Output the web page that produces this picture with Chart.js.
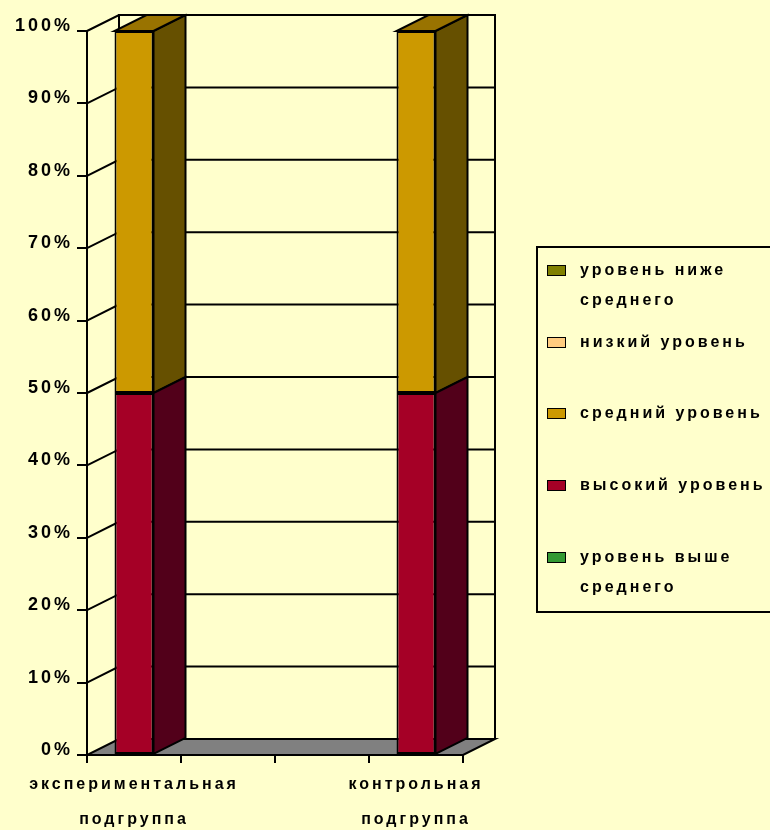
<!DOCTYPE html>
<html>
<head>
<meta charset="utf-8">
<script src="https://cdn.jsdelivr.net/npm/chart.js@4/dist/chart.umd.min.js"></script>
<style>
  html, body { margin: 0; padding: 0; background: #ffffcc; overflow: hidden; }
  #wrap { position: relative; width: 770px; height: 830px; }
  #legend {
    position: absolute; left: 536px; top: 246px; width: 260px; height: 356px;
    border: 2px solid #000; box-sizing: content-box; padding-top: 7px;
    font: bold 16px "Liberation Sans", Arial, sans-serif; letter-spacing: 3px; color: #000;
  }
  .item { position: relative; height: 71.7px; line-height: 30px; }
  .sw { position: absolute; left: 9px; top: 10px; width: 17px; height: 9px; border: 1px solid #000; }
  .txt { position: absolute; left: 42px; top: 0; width: 196px; }
</style>
</head>
<body>
<div id="wrap">
  <canvas id="myChart" width="770" height="830"></canvas>
  <div id="legend"></div>
</div>
<script>
// categories (two empty slots sit between the groups)
const categories = [['экспериментальная', 'подгруппа'], '', '', ['контрольная', 'подгруппа']];
const yTickLabels = ['0%', '10%', '20%', '30%', '40%', '50%', '60%', '70%', '80%', '90%', '100%'];

const seriesNames = ['уровень выше среднего', 'высокий уровень', 'средний уровень', 'низкий уровень', 'уровень ниже среднего'];
const vysheSrednego = [0, null, null, 0];
const vysokiy = [50, null, null, 50];
const sredniy = [50, null, null, 50];
const nizkiy = [0, null, null, 0];
const nizheSrednego = [0, null, null, 0];

// colours: front face, side face, top face
const frontColors = ['#339933', '#a50026', '#cc9900', '#ffcc80', '#808000'];
const sideColors = ['#1a4d1a', '#52001a', '#665000', '#997a4d', '#404000'];
const topColors = ['#267326', '#7a001c', '#997300', '#cc9966', '#606000'];

const DX = 32, DY = -16;

const box3d = {
    id: 'box3d',
    beforeUpdate(chart) { chart.ctx.letterSpacing = '3px'; },
    beforeDraw(chart) { chart.ctx.letterSpacing = '3px'; },
    beforeDatasetsDraw(chart) {
        const { ctx, chartArea: a, scales: { y } } = chart;
        ctx.save();
        ctx.lineWidth = 2;
        ctx.strokeStyle = '#000';
        // floor
        ctx.fillStyle = '#808080';
        ctx.beginPath();
        ctx.moveTo(a.left, a.bottom);
        ctx.lineTo(a.right, a.bottom);
        ctx.lineTo(a.right + DX, a.bottom + DY);
        ctx.lineTo(a.left + DX, a.bottom + DY);
        ctx.closePath();
        ctx.fill();
        ctx.stroke();
        // back wall edges
        ctx.beginPath();
        ctx.moveTo(a.left + DX, a.bottom + DY);
        ctx.lineTo(a.left + DX, a.top + DY);
        ctx.lineTo(a.right + DX, a.top + DY);
        ctx.lineTo(a.right + DX, a.bottom + DY);
        ctx.stroke();
        // gridlines on side + back walls
        y.ticks.forEach(t => {
            if (t.value === 0) return;
            const py = y.getPixelForValue(t.value);
            ctx.beginPath();
            ctx.moveTo(a.left, py);
            ctx.lineTo(a.left + DX, py + DY);
            ctx.lineTo(a.right + DX, py + DY);
            ctx.stroke();
        });
        ctx.restore();
    },
    afterDatasetDraw(chart, args) {
        const { ctx } = chart;
        const i = args.index;
        ctx.save();
        ctx.lineWidth = 2;
        ctx.strokeStyle = '#000';
        ctx.fillStyle = sideColors[i];
        args.meta.data.forEach((bar, j) => {
            const v = chart.data.datasets[i].data[j];
            if (!v) return;
            const r = bar.x + bar.width / 2;
            const top = Math.min(bar.y, bar.base), bot = Math.max(bar.y, bar.base);
            ctx.beginPath();
            ctx.moveTo(r, bot);
            ctx.lineTo(r, top);
            ctx.lineTo(r + DX, top + DY);
            ctx.lineTo(r + DX, bot + DY);
            ctx.closePath();
            ctx.fill();
            ctx.stroke();
        });
        ctx.restore();
    },
    afterDatasetsDraw(chart) {
        const { ctx } = chart;
        const ds = chart.data.datasets;
        ctx.save();
        ctx.lineWidth = 2;
        ctx.strokeStyle = '#000';
        categories.forEach((c, j) => {
            let last = -1;
            ds.forEach((d, i) => { if (d.data[j]) last = i; });
            if (last < 0) return;
            const bar = chart.getDatasetMeta(last).data[j];
            const l = bar.x - bar.width / 2, r = bar.x + bar.width / 2;
            const top = Math.min(bar.y, bar.base);
            ctx.fillStyle = topColors[last];
            ctx.beginPath();
            ctx.moveTo(l, top);
            ctx.lineTo(r, top);
            ctx.lineTo(r + DX, top + DY);
            ctx.lineTo(l + DX, top + DY);
            ctx.closePath();
            ctx.fill();
            ctx.stroke();
        });
        ctx.restore();
    }
};

const series = [vysheSrednego, vysokiy, sredniy, nizkiy, nizheSrednego];
const font = { family: '"Liberation Sans", Arial, sans-serif', size: 16, weight: 'bold' };

const ctx = document.getElementById('myChart').getContext('2d');
const myChart = new Chart(ctx, {
    type: 'bar',
    data: {
        labels: categories,
        datasets: series.map((data, i) => ({
            label: seriesNames[i],
            data: data,
            backgroundColor: frontColors[i],
            borderColor: '#000',
            borderWidth: c => (c.raw ? 2 : 0),
            borderSkipped: false,
            barPercentage: 0.415,
            categoryPercentage: 1
        }))
    },
    options: {
        responsive: false,
        animation: false,
        layout: { padding: { top: 31, right: 307, left: 0, bottom: 0 } },
        plugins: { legend: { display: false }, tooltip: { enabled: false } },
        scales: {
            x: {
                stacked: true,
                grid: { offset: true, drawOnChartArea: false, color: '#000', lineWidth: 2, tickLength: 8 },
                border: { color: '#000', width: 2 },
                ticks: { color: '#000', font: { ...font, lineHeight: 2.2 }, padding: 4, maxRotation: 0, autoSkip: false },
                afterFit: s => { s.height = 75; }
            },
            y: {
                stacked: true,
                min: 0, max: 100,
                grid: { drawOnChartArea: false, color: '#000', lineWidth: 2, tickLength: 10 },
                border: { color: '#000', width: 2 },
                ticks: { stepSize: 10, color: '#000', font: { ...font, size: 18 }, padding: 4, labelOffset: -5,
                    callback: v => yTickLabels[Math.round(v / 10)] },
                afterFit: s => { s.width = 87; }
            }
        }
    },
    plugins: [box3d]
});

// legend, reversed like the original
const legend = document.getElementById('legend');
seriesNames.map((n, i) => i).reverse().forEach(i => {
    const item = document.createElement('div');
    item.className = 'item';
    item.innerHTML = '<span class="sw" style="background:' + frontColors[i] + '"></span><span class="txt">' + seriesNames[i] + '</span>';
    legend.appendChild(item);
});
</script>
</body>
</html>
